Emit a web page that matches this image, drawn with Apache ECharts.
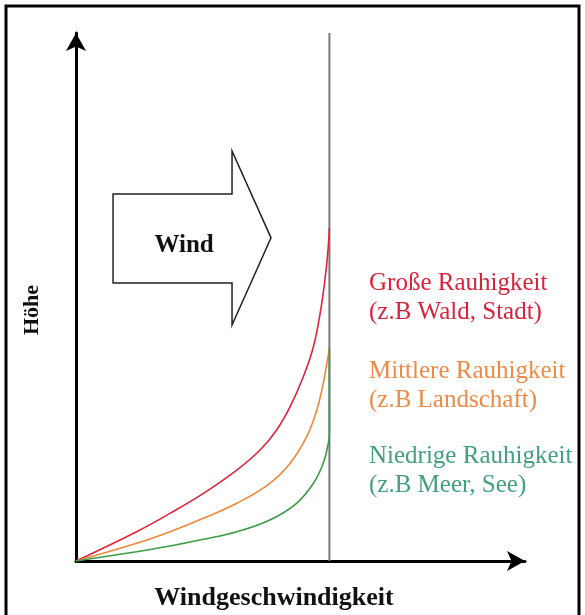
<!DOCTYPE html>
<html>
<head>
<meta charset="utf-8">
<script src="https://cdn.jsdelivr.net/npm/echarts@6/dist/echarts.min.js"></script>
<style>
  html, body { margin: 0; padding: 0; background: #fff; }
  #chart { width: 585px; height: 615px; }
</style>
</head>
<body>
<div id="chart"></div>
<script>
// Windgeschwindigkeit (x) gegen Höhe (y), willkürliche Einheiten
const grosseX = [0, 2.16, 3.35, 4.54, 5.73, 6.56, 7.15, 7.63, 8.10, 8.46, 8.70, 8.87, 8.97, 9.03]
const grosseY = [0, 5.55, 9.03, 12.82, 17.23, 21.02, 24.81, 29.22, 34.9, 40.59, 46.91, 53.22, 58.27, 63.07]

const mittlereX = [0, 2.16, 3.35, 4.54, 5.73, 6.91, 7.63, 8.22, 8.58, 8.81, 8.96, 9.03]
const mittlereY = [0, 3.35, 5.55, 8.09, 10.93, 14.72, 18.5, 23.54, 28.6, 33.65, 38.07, 40.28]

const niedrigeX = [0, 2.16, 3.35, 4.54, 5.73, 6.91, 7.86, 8.46, 8.81, 8.99, 9.03, 9.03]
const niedrigeY = [0, 1.76, 2.84, 4.11, 5.55, 7.77, 10.93, 14.72, 18.5, 22.29, 24.18, 40.28]

// Grenze: ungestörte Windgeschwindigkeit
const grenzeX = [9.03, 9.03]
const grenzeY = [0, 100]

// Umriss des "Wind"-Pfeils (Datenkoordinaten)
const pfeilX = [1.32, 5.56, 5.56, 6.95, 5.56, 5.56, 1.32]
const pfeilY = [69.5, 69.5, 77.65, 61.2, 44.7, 52.65, 52.65]

const labels = [
  ['Große Rauhigkeit', '(z.B Wald, Stadt)'],
  ['Mittlere Rauhigkeit', '(z.B Landschaft)'],
  ['Niedrige Rauhigkeit', '(z.B Meer, See)']
]
const farben = ['#e0243c', '#f0883a', '#3c9a48']
const textFarben = ['#d9233a', '#ee8a45', '#43a07e']

const zip = (xs, ys) => xs.map((x, i) => [x, ys[i]])

const chart = echarts.init(document.getElementById('chart'))

const serif = '"Liberation Serif", "Times New Roman", serif'

let textGraphics = []
const labelTop = [285, 373, 458]
labels.forEach((lines, i) => {
  lines.forEach((t, j) => {
    textGraphics.push({
      type: 'text',
      left: 369,
      top: labelTop[i] + j * 29 - 14,
      style: {
        text: t,
        fill: textFarben[i],
        font: '25px ' + serif
      }
    })
  })
})

const kurve = (xs, ys, farbe) => ({
  type: 'line',
  data: zip(xs, ys),
  smooth: 0.4,
  showSymbol: false,
  lineStyle: {color: farbe, width: 1.6},
  z: 3
})

let option = {
  animation: false,
  grid: {
    left: 76,
    right: 60,
    top: 33,
    bottom: 54
  },
  xAxis: {
    type: 'value',
    min: 0,
    max: 16,
    axisLine: {
      show: true,
      symbol: ['none', 'arrow'],
      symbolSize: [15, 18],
      lineStyle: {color: '#000', width: 3}
    },
    axisTick: {show: false},
    axisLabel: {show: false},
    splitLine: {show: false}
  },
  yAxis: {
    type: 'value',
    min: 0,
    max: 100,
    axisLine: {
      show: true,
      symbol: ['none', 'arrow'],
      symbolSize: [15, 18],
      lineStyle: {color: '#000', width: 3}
    },
    axisTick: {show: false},
    axisLabel: {show: false},
    splitLine: {show: false}
  },
  graphic: [
    {
      type: 'rect',
      shape: {x: 6, y: 6, width: 573, height: 620},
      style: {fill: 'none', stroke: '#000', lineWidth: 3}
    },
    {
      type: 'text',
      x: 32,
      y: 310,
      rotation: Math.PI / 2,
      style: {
        text: 'Höhe',
        font: 'bold 22px ' + serif,
        fill: '#111',
        align: 'center',
        verticalAlign: 'middle'
      }
    },
    {
      type: 'text',
      x: 274,
      y: 598,
      style: {
        text: 'Windgeschwindigkeit',
        font: 'bold 26px ' + serif,
        fill: '#111',
        align: 'center',
        verticalAlign: 'middle'
      }
    },
    ...textGraphics
  ],
  series: [
    {
      type: 'line',
      data: zip(grenzeX, grenzeY),
      showSymbol: false,
      lineStyle: {color: '#777', width: 2},
      z: 1
    },
    {
      type: 'custom',
      data: [[0, 0]],
      renderItem: (params, api) => {
        const pts = pfeilX.map((x, i) => api.coord([x, pfeilY[i]]))
        const mitte = api.coord([3.85, 59.8])
        return {
          type: 'group',
          children: [
            {
              type: 'polygon',
              shape: {points: pts},
              style: {fill: '#fff', stroke: '#222', lineWidth: 1.5}
            },
            {
              type: 'text',
              x: mitte[0],
              y: mitte[1],
              style: {
                text: 'Wind',
                font: 'bold 25px ' + serif,
                fill: '#111',
                align: 'center',
                verticalAlign: 'middle'
              }
            }
          ]
        }
      },
      z: 2
    },
    kurve(grosseX, grosseY, farben[0]),
    kurve(mittlereX, mittlereY, farben[1]),
    kurve(niedrigeX, niedrigeY, farben[2])
  ]
}
chart.setOption(option)
</script>
</body>
</html>
